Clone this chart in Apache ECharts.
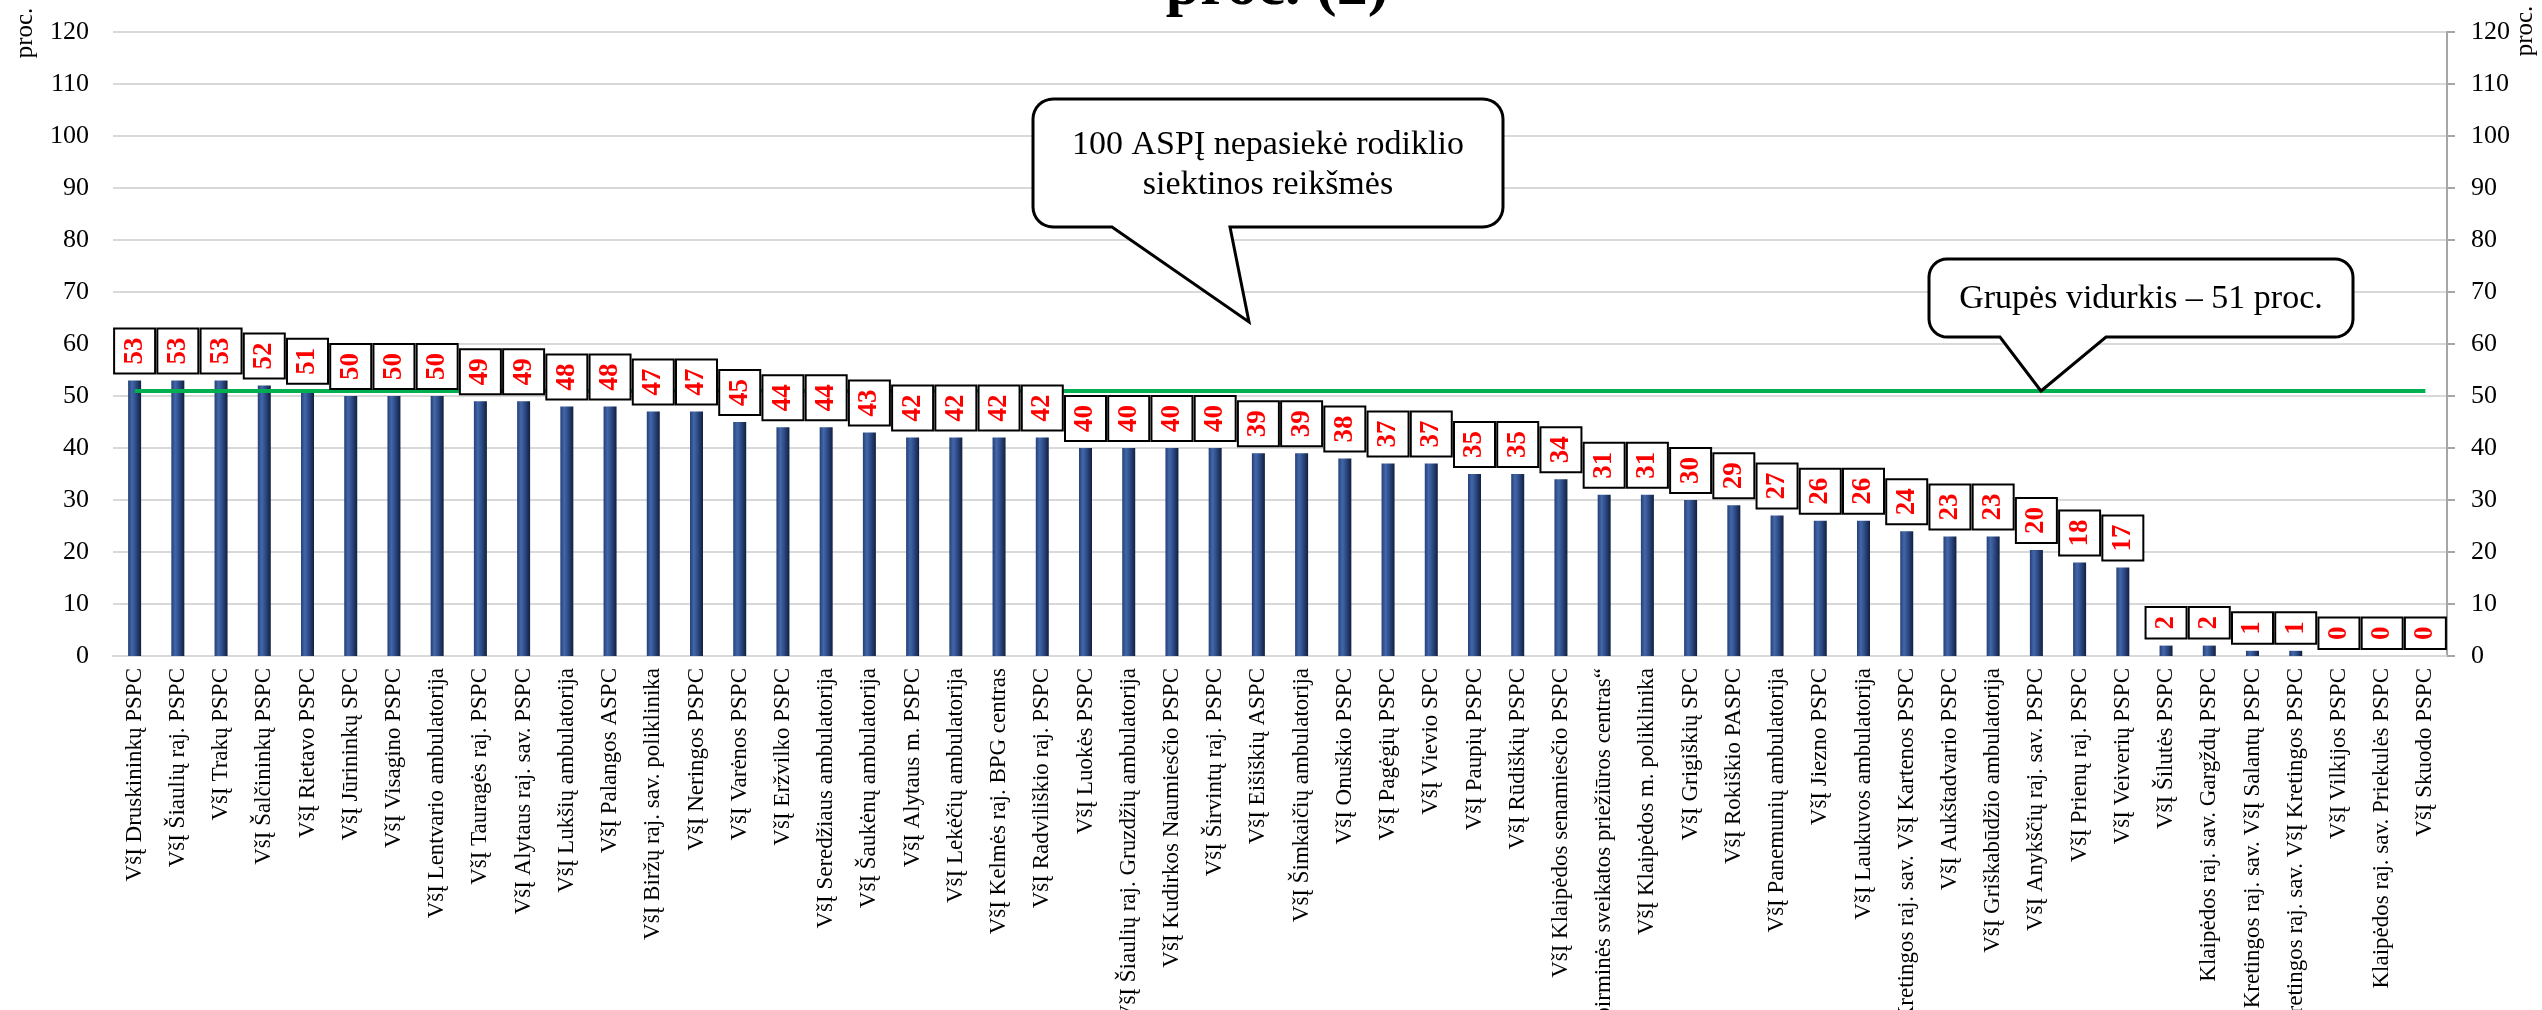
<!DOCTYPE html>
<html>
<head>
<meta charset="utf-8">
<script src="https://cdn.jsdelivr.net/npm/echarts@6/dist/echarts.min.js"></script>
<style>
  html, body { margin: 0; padding: 0; background: #fff; }
  #chart { width: 2542px; height: 1010px; }
</style>
</head>
<body>
<div id="chart"></div>
<script>
const categories = [
  'VšĮ Druskininkų PSPC', 'VšĮ Šiaulių raj. PSPC', 'VšĮ Trakų PSPC', 'VšĮ Šalčininkų PSPC',
  'VšĮ Rietavo PSPC', 'VšĮ Jūrininkų SPC', 'VšĮ Visagino PSPC', 'VšĮ Lentvario ambulatorija',
  'VšĮ Tauragės raj. PSPC', 'VšĮ Alytaus raj. sav. PSPC', 'VšĮ Lukšių ambulatorija', 'VšĮ Palangos ASPC',
  'VšĮ Biržų raj. sav. poliklinika', 'VšĮ Neringos PSPC', 'VšĮ Varėnos PSPC', 'VšĮ Eržvilko PSPC',
  'VšĮ Seredžiaus ambulatorija', 'VšĮ Šaukėnų ambulatorija', 'VšĮ Alytaus m. PSPC', 'VšĮ Lekėčių ambulatorija',
  'VšĮ Kelmės raj. BPG centras', 'VšĮ Radviliškio raj. PSPC', 'VšĮ Luokės PSPC', 'VšĮ Šiaulių raj. Gruzdžių ambulatorija',
  'VšĮ Kudirkos Naumiesčio PSPC', 'VšĮ Širvintų raj. PSPC', 'VšĮ Eišiškių ASPC', 'VšĮ Šimkaičių ambulatorija',
  'VšĮ Onuškio PSPC', 'VšĮ Pagėgių PSPC', 'VšĮ Vievio SPC', 'VšĮ Paupių PSPC',
  'VšĮ Rūdiškių PSPC', 'VšĮ Klaipėdos senamiesčio PSPC', 'VšĮ „Jonavos pirminės sveikatos priežiūros centras“', 'VšĮ Klaipėdos m. poliklinika',
  'VšĮ Grigiškių SPC', 'VšĮ Rokiškio PASPC', 'VšĮ Panemunių ambulatorija', 'VšĮ Jiezno PSPC',
  'VšĮ Laukuvos ambulatorija', 'Kretingos raj. sav. VšĮ Kartenos PSPC', 'VšĮ Aukštadvario PSPC', 'VšĮ Griškabūdžio ambulatorija',
  'VšĮ Anykščių raj. sav. PSPC', 'VšĮ Prienų raj. PSPC', 'VšĮ Veiverių PSPC', 'VšĮ Šilutės PSPC',
  'Klaipėdos raj. sav. Gargždų PSPC', 'Kretingos raj. sav. VšĮ Salantų PSPC', 'Kretingos raj. sav. VšĮ Kretingos PSPC', 'VšĮ Vilkijos PSPC',
  'Klaipėdos raj. sav. Priekulės PSPC', 'VšĮ Skuodo PSPC'
];
const values = [
  53, 53, 53, 52, 51, 50, 50, 50, 49, 49, 48, 48, 47, 47, 45, 44, 44, 43,
  42, 42, 42, 42, 40, 40, 40, 40, 39, 39, 38, 37, 37, 35, 35, 34, 31, 31,
  30, 29, 27, 26, 26, 24, 23, 23, 20.4, 18, 17, 2, 2, 1, 1, 0, 0, 0
];
const groupAverage = 51;
const yMin = 0, yMax = 120, yStep = 10;
const titleText = 'proc. (2)';
const unitText = 'proc.';
const callout1Text = '100 ASPĮ nepasiekė rodiklio\nsiektinos reikšmės';
const callout2Text = 'Grupės vidurkis – 51 proc.';

const SERIF = '"Liberation Serif", "Times New Roman", serif';

// rounded-rectangle speech bubble outline as polygon points
function bubblePoints(x1, y1, x2, y2, r, tailL, tailR, tipX, tipY) {
  const pts = [];
  function arc(cx, cy, a0, a1) {
    const n = 8;
    for (let i = 0; i <= n; i++) {
      const a = a0 + (a1 - a0) * i / n;
      pts.push([cx + r * Math.cos(a), cy + r * Math.sin(a)]);
    }
  }
  arc(x1 + r, y1 + r, Math.PI, Math.PI * 1.5);
  arc(x2 - r, y1 + r, Math.PI * 1.5, Math.PI * 2);
  arc(x2 - r, y2 - r, 0, Math.PI * 0.5);
  pts.push([tailR, y2]);
  pts.push([tipX, tipY]);
  pts.push([tailL, y2]);
  arc(x1 + r, y2 - r, Math.PI * 0.5, Math.PI);
  return pts;
}

const chart = echarts.init(document.getElementById('chart'), null, { renderer: 'canvas' });

const yLabel = { fontFamily: SERIF, fontSize: 26, color: '#000' };

chart.setOption({
  animation: false,
  backgroundColor: '#ffffff',
  grid: { left: 113, right: 95, top: 32, bottom: 354, containLabel: false, outerBoundsMode: 'none' },
  xAxis: {
    type: 'category',
    data: categories,
    axisLine: { show: true, lineStyle: { color: '#D9D9D9', width: 2 } },
    axisTick: { show: false },
    axisLabel: {
      interval: 0, rotate: 90, margin: 12,
      fontFamily: SERIF, fontSize: 23, color: '#000'
    }
  },
  yAxis: [
    {
      type: 'value', position: 'left', min: yMin, max: yMax, interval: yStep,
      axisLine: { show: false }, axisTick: { show: false },
      axisLabel: Object.assign({ margin: 24 }, yLabel),
      splitLine: { show: true, lineStyle: { color: '#D9D9D9', width: 2 } }
    },
    {
      type: 'value', position: 'right', min: yMin, max: yMax, interval: yStep,
      axisLine: { show: true, lineStyle: { color: '#A6A6A6', width: 2 } },
      axisTick: { show: true, length: 8, lineStyle: { color: '#A6A6A6', width: 2 } },
      axisLabel: Object.assign({ margin: 24 }, yLabel),
      splitLine: { show: false }
    }
  ],
  series: [
    {
      type: 'bar',
      name: 'bars',
      data: values,
      barWidth: 13,
      z: 2,
      itemStyle: {
        color: new echarts.graphic.LinearGradient(0, 0, 1, 0, [
          { offset: 0, color: '#233F78' },
          { offset: 0.3, color: '#4467A8' },
          { offset: 0.6, color: '#2C4A86' },
          { offset: 1, color: '#121F3D' }
        ])
      },
      label: { show: false },
      markLine: {
        silent: true,
        z: 4,
        symbol: ['none', 'none'],
        label: { show: false },
        lineStyle: { color: '#00B050', width: 4, type: 'solid' },
        data: [[
          { coord: [categories[0], groupAverage] },
          { coord: [categories[categories.length - 1], groupAverage] }
        ]]
      }
    },
    {
      type: 'bar',
      name: 'labels',
      data: values,
      barWidth: 13,
      barGap: '-100%',
      z: 8,
      silent: true,
      itemStyle: { color: 'rgba(0,0,0,0)' },
      label: {
        show: true,
        position: 'top',
        distance: 8,
        rotate: 90,
        align: 'left',
        verticalAlign: 'middle',
        formatter: (p) => String(Math.round(p.value)),
        fontFamily: SERIF,
        fontWeight: 'bold',
        fontSize: 27,
        lineHeight: 27,
        color: '#FF0000',
        backgroundColor: '#ffffff',
        borderColor: '#000000',
        borderWidth: 2,
        padding: [6, 8, 6, 8]
      }
    }
  ],
  graphic: [
    {
      type: 'text', z: 100,
      style: { text: titleText, x: 1277, y: -12, align: 'center', verticalAlign: 'middle',
        font: 'bold 62px ' + SERIF, fill: '#000' }
    },
    {
      type: 'text', z: 100, x: 25, y: 33, rotation: Math.PI / 2,
      style: { text: unitText, x: 0, y: 0, align: 'center', verticalAlign: 'middle',
        font: '25px ' + SERIF, fill: '#000' }
    },
    {
      type: 'text', z: 100, x: 2525, y: 31, rotation: Math.PI / 2,
      style: { text: unitText, x: 0, y: 0, align: 'center', verticalAlign: 'middle',
        font: '25px ' + SERIF, fill: '#000' }
    },
    {
      type: 'polygon', z: 100,
      shape: { points: bubblePoints(1033, 99, 1503, 227, 20, 1112, 1230, 1249, 322) },
      style: { fill: '#ffffff', stroke: '#000000', lineWidth: 3, lineJoin: 'miter' }
    },
    {
      type: 'text', z: 101,
      style: { text: callout1Text, x: 1268, y: 165, align: 'center', verticalAlign: 'middle',
        font: '34px ' + SERIF, lineHeight: 40, fill: '#000' }
    },
    {
      type: 'polygon', z: 100,
      shape: { points: bubblePoints(1929, 259, 2353, 337, 18, 2000, 2106, 2041, 391) },
      style: { fill: '#ffffff', stroke: '#000000', lineWidth: 3, lineJoin: 'miter' }
    },
    {
      type: 'text', z: 101,
      style: { text: callout2Text, x: 2141, y: 299, align: 'center', verticalAlign: 'middle',
        font: '34px ' + SERIF, fill: '#000' }
    }
  ]
});
</script>
</body>
</html>
